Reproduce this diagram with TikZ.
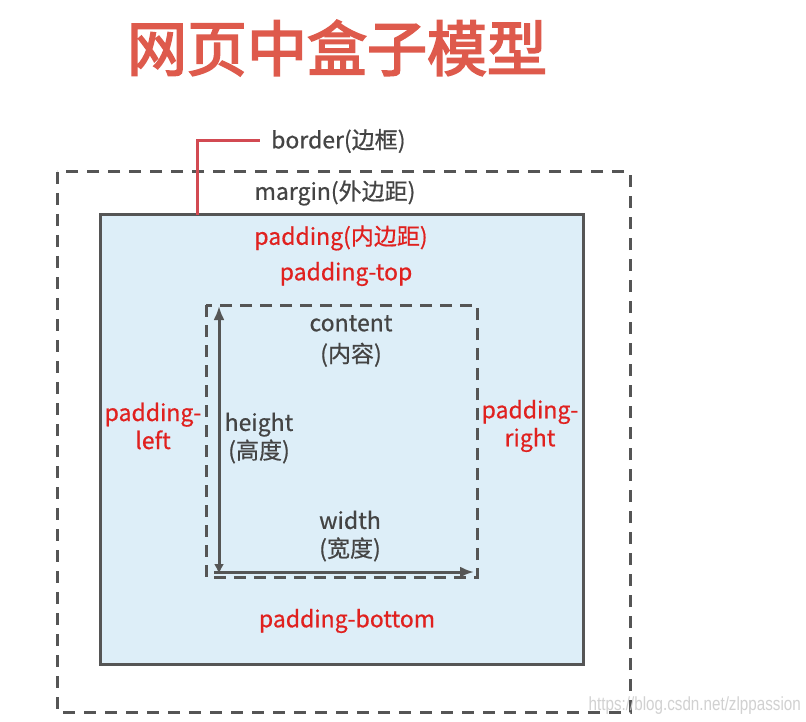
\documentclass[tikz,border=0pt]{standalone}
\usepackage{fontspec}
\usepackage{xcolor}
\usepackage{tikz}
\usetikzlibrary{arrows.meta,positioning}
\newfontfamily\cjk[AutoFakeBold=3]{Noto Sans CJK SC}
\newfontfamily\lblfont[FakeBold=0.6]{Noto Sans CJK SC}
\newfontfamily\markfont[FakeStretch=0.8]{Liberation Sans}
\definecolor{titlered}{HTML}{DE5A4C}
\definecolor{padred}{HTML}{E0211F}
\definecolor{boxgray}{HTML}{555555}
\definecolor{textgray}{HTML}{444444}
\definecolor{paleblue}{HTML}{DDEEF8}
\definecolor{calloutred}{HTML}{D24A52}

\begin{document}
\begin{tikzpicture}[x=1pt, y=-1pt, every node/.style={font=\lblfont\fontsize{23}{27}\selectfont, inner sep=0pt}]
  \useasboundingbox[fill=white] (0,0) rectangle (806,722);
  % title
  \node[text=titlered, font=\cjk\bfseries\fontsize{60}{66}\selectfont] (title) at (337,48) {网页中盒子模型};
  % boxes
  \draw[boxgray, line width=3pt, dash pattern=on 12pt off 9pt] (57,172) rectangle (630,712);
  \draw[boxgray, line width=3pt, fill=paleblue] (100,215) rectangle (583,664);
  \draw[boxgray, line width=3pt, dash pattern=on 12pt off 8pt] (206,305) rectangle (477,577);
  % labels
  \node[text=textgray, anchor=west] (borderlbl) at (271,141) {border(边框)};
  \node[text=textgray] (marginlbl) at (335,193) {margin(外边距)};
  \node[text=padred] (padlbl) at (341,238) {padding(内边距)};
  \node[text=padred] (toplbl) at (346,274) {padding-top};
  \node[text=textgray, align=center] (contentlbl) at (351,341) {content\\[4pt](内容)};
  \node[text=padred, align=center] (leftlbl) at (153,426) {padding-\\[1pt]left};
  \node[text=padred, align=center] (rightlbl) at (530,426) {padding-\\[1pt]right};
  \node[text=textgray, align=center] (heightlbl) at (259,438) {height\\[1pt](高度)};
  \node[text=textgray, align=center] (widthlbl) at (350,536) {width\\[1pt](宽度)};
  \node[text=padred] (bottomlbl) at (347,621) {padding-bottom};
  \node[text=black!18, font=\markfont\fontsize{19}{21}\selectfont, anchor=east] (mark) at (801,706) {https://blog.csdn.net/zlppassion};
  % arrows
  \coordinate (hbot) at (219,574);
  \coordinate (htop) at (219,306);
  \coordinate (wstart) at (214,572);
  \coordinate (wend) at (474,572);
  \draw[boxgray, line width=3pt, {Latex[length=10pt,width=10pt]}-{Latex[length=14pt,width=11pt]}] (hbot) -- (htop);
  \draw[boxgray, line width=3pt, -{Latex[length=14pt,width=11pt]}] (wstart) -- (wend);
  % border callout
  \coordinate (bordertap) at (197,215);
  \draw[calloutred, line width=3pt] (bordertap) |- ([xshift=-11pt]borderlbl.west);
\end{tikzpicture}
\end{document}
